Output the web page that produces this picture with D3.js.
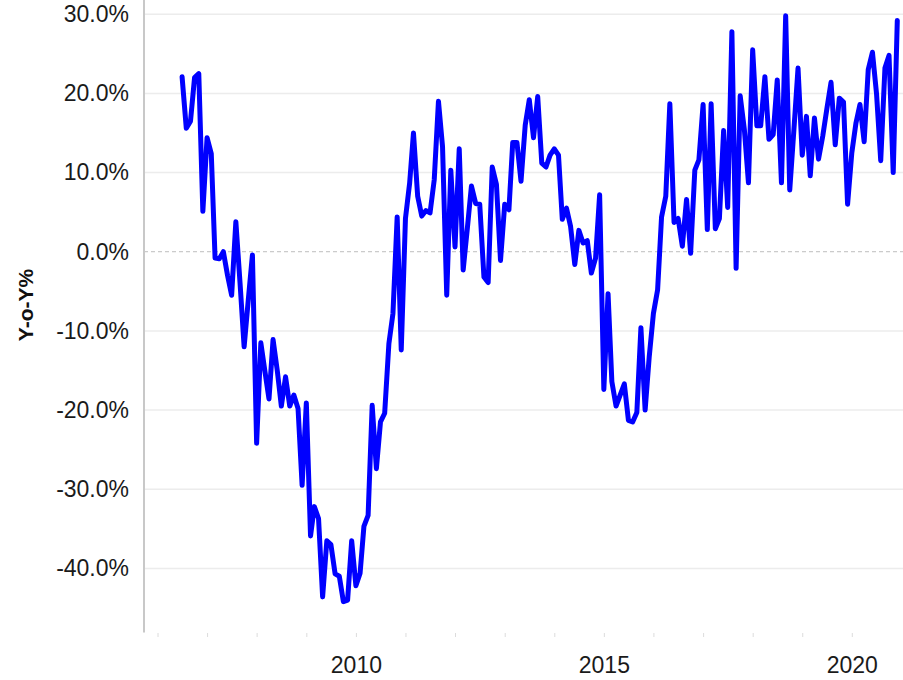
<!DOCTYPE html>
<html>
<head>
<meta charset="utf-8">
<script src="https://cdn.jsdelivr.net/npm/d3@7"></script>
<style>
  html, body { margin: 0; padding: 0; background: #fff; }
  svg { display: block; }
</style>
</head>
<body>
<svg id="chart" width="903" height="680"></svg>
<script>
// ---- data ----
const startMonth = "2006-07";   // first observation (monthly series)
const yoyPct = [
  22.1, 15.6, 16.5, 22.0, 22.5, 5.1, 14.4, 12.4, -0.8, -0.9, 0.0, -3.0,
  -5.5, 3.8, -4.0, -12.0, -6.0, -0.4, -24.2, -11.5, -15.0, -18.6, -11.1, -15.0,
  -19.5, -15.8, -19.5, -18.1, -19.8, -29.5, -19.1, -35.9, -32.2, -33.7, -43.6, -36.5,
  -37.0, -40.7, -41.0, -44.2, -44.0, -36.5, -42.2, -40.6, -34.7, -33.3, -19.4, -27.4,
  -21.5, -20.4, -11.6, -7.8, 4.4, -12.4, 4.2, 8.7, 15.0, 7.0, 4.5, 5.2,
  4.9, 9.1, 19.0, 13.3, -5.5, 10.3, 0.6, 13.0, -2.3, 3.0, 8.3, 6.1,
  6.0, -3.2, -3.9, 10.7, 8.5, -1.1, 6.0, 5.3, 13.8, 13.8, 8.9, 16.0,
  19.2, 14.4, 19.6, 11.2, 10.7, 12.2, 13.0, 12.2, 4.1, 5.5, 3.2, -1.6,
  2.7, 1.1, 1.4, -2.7, -0.8, 7.2, -17.4, -5.3, -16.4, -19.5, -18.1, -16.7,
  -21.3, -21.5, -20.3, -9.6, -20.0, -13.3, -7.8, -4.8, 4.4, 7.0, 18.7, 3.7,
  4.2, 0.7, 6.6, -0.2, 10.3, 11.6, 18.6, 2.8, 18.7, 2.9, 4.2, 15.3,
  5.6, 27.8, -2.1, 19.7, 15.4, 8.7, 25.5, 15.9, 15.9, 22.1, 14.2, 14.8,
  21.7, 8.7, 29.8, 7.8, 15.5, 23.2, 12.2, 17.1, 9.6, 16.9, 11.7, 14.6,
  18.0, 21.4, 13.5, 19.4, 18.9, 6.0, 12.5, 16.3, 18.6, 13.9, 23.0, 25.2,
  20.0, 11.5, 23.2, 24.8, 10.0, 29.2
];
const yTickValues = [-0.4, -0.3, -0.2, -0.1, 0, 0.1, 0.2, 0.3];
const xTickYears = [2006, 2007, 2008, 2009, 2010, 2011, 2012, 2013, 2014, 2015, 2016, 2017, 2018, 2019, 2020];
const xLabelYears = [2010, 2015, 2020];
const yAxisTitle = "Y-o-Y%";

// ---- build ----
const parseMonth = d3.timeParse("%Y-%m");
const t0 = parseMonth(startMonth);
const series = yoyPct.map((v, i) => ({ date: d3.timeMonth.offset(t0, i), value: v / 100 }));

const svg = d3.select("#chart");
const plotLeft = 144, plotRight = 903, plotTop = 0, plotBottom = 632.5;
const FONT = "Liberation Sans, Arial, sans-serif";

const x = d3.scaleTime()
  .domain([new Date(2006, 0, 1), new Date(2021, 0, 1)])
  .range([157.5, 901.5]);
const y = d3.scaleLinear()
  .domain([-0.481, 0.318])
  .range([plotBottom, plotTop]);

const locale = d3.formatLocale({ decimal: ".", thousands: ",", grouping: [3], currency: ["$", ""], minus: "-" });
const fmt = locale.format(".1%");

// gridlines
svg.append("g")
  .selectAll("line")
  .data(yTickValues.filter(d => d !== 0))
  .join("line")
  .attr("x1", plotLeft).attr("x2", plotRight)
  .attr("y1", d => y(d)).attr("y2", d => y(d))
  .attr("stroke", "#ececec").attr("stroke-width", 1.5);

// zero line
svg.append("line")
  .attr("x1", plotLeft).attr("x2", plotRight)
  .attr("y1", y(0)).attr("y2", y(0))
  .attr("stroke", "#bdbdbd").attr("stroke-width", 1)
  .attr("stroke-dasharray", "4,3");

// y axis
const yAxis = d3.axisLeft(y).tickValues(yTickValues).tickFormat(fmt).tickSize(0).tickPadding(15);
const gy = svg.append("g").attr("transform", `translate(${plotLeft},0)`).call(yAxis);
gy.select(".domain").remove();
gy.selectAll("text")
  .attr("font-family", FONT)
  .attr("font-size", 23)
  .attr("fill", "#1a1a1a");
svg.append("line")
  .attr("x1", plotLeft).attr("x2", plotLeft)
  .attr("y1", plotTop).attr("y2", plotBottom)
  .attr("stroke", "#c8c8c8").attr("stroke-width", 2);

// x axis
const xAxis = d3.axisBottom(x)
  .tickValues(xTickYears.map(yr => new Date(yr, 0, 1)))
  .tickFormat(d => xLabelYears.includes(d.getFullYear()) ? String(d.getFullYear()) : "")
  .tickSize(4).tickPadding(20);
const gx = svg.append("g").attr("transform", `translate(0,${plotBottom + 0.5})`).call(xAxis);
gx.select(".domain").remove();
gx.selectAll(".tick line").attr("stroke", "#dcdcdc").attr("stroke-width", 1);
gx.selectAll("text")
  .attr("font-family", FONT)
  .attr("font-size", 23)
  .attr("fill", "#1a1a1a");

// y axis title
svg.append("text")
  .attr("transform", `translate(25.5,305) rotate(-90)`)
  .attr("text-anchor", "middle")
  .attr("dominant-baseline", "central")
  .attr("font-family", FONT)
  .attr("font-weight", "bold")
  .attr("font-size", 21)
  .attr("fill", "#111")
  .text(yAxisTitle);

// line
const line = d3.line().x(d => x(d.date)).y(d => y(d.value));
svg.append("path")
  .datum(series)
  .attr("d", line)
  .attr("fill", "none")
  .attr("stroke", "#0000ff")
  .attr("stroke-width", 5)
  .attr("stroke-linejoin", "round")
  .attr("stroke-linecap", "round");
</script>
</body>
</html>
